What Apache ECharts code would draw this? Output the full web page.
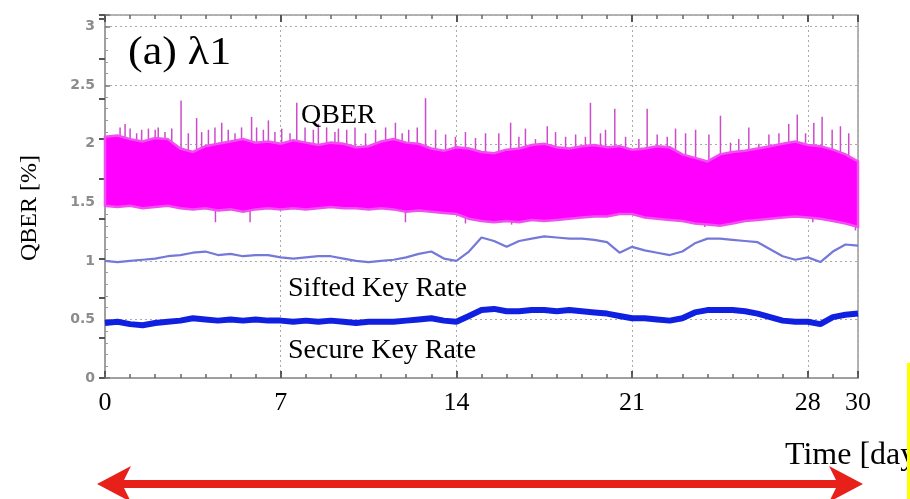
<!DOCTYPE html>
<html><head><meta charset="utf-8">
<script src="https://cdn.jsdelivr.net/npm/echarts@6/dist/echarts.min.js"></script>
<style>html,body{margin:0;padding:0;background:#fff}#c{width:910px;height:499px}</style>
</head><body><div id="c"></div>
<script>
// ---- data ----
const dayTicks = [0, 7, 14, 21, 28, 30];
const yTicks = [0, 0.5, 1, 1.5, 2, 2.5, 3];

const qberDays = [0,0.5,1,1.5,2,2.5,3,3.5,4,4.5,5,5.5,6,6.5,7,7.5,8,8.5,9,9.5,10,10.5,11,11.5,12,12.5,13,13.5,14,14.5,15,15.5,16,16.5,17,17.5,18,18.5,19,19.5,20,20.5,21,21.5,22,22.5,23,23.5,24,24.5,25,25.5,26,26.5,27,27.5,28,28.5,29,29.5,30];
const qberUpper = [2.06,2.07,2.04,2.02,2.05,2.04,1.96,1.93,1.98,2.00,2.02,2.04,2.01,2.02,2.00,2.03,2.01,1.99,2.01,2.00,1.97,1.98,2.02,2.04,2.01,2.00,1.96,1.94,1.97,1.96,1.93,1.92,1.95,1.96,1.99,2.00,1.97,1.96,1.98,1.99,1.97,1.98,1.95,1.96,1.98,1.97,1.91,1.88,1.85,1.91,1.93,1.94,1.96,1.98,2.00,2.02,1.99,1.98,1.95,1.91,1.85];
const qberLower = [1.47,1.46,1.47,1.45,1.46,1.47,1.45,1.44,1.45,1.43,1.44,1.42,1.44,1.45,1.44,1.45,1.44,1.45,1.46,1.45,1.45,1.44,1.45,1.44,1.42,1.43,1.42,1.41,1.40,1.36,1.34,1.33,1.34,1.33,1.35,1.34,1.35,1.36,1.37,1.38,1.38,1.40,1.40,1.37,1.36,1.35,1.34,1.32,1.31,1.30,1.32,1.34,1.35,1.36,1.37,1.38,1.37,1.36,1.34,1.32,1.29];

const spikeDays = [0.4,0.6,0.8,1.0,1.26,1.46,1.73,2.0,2.12,2.39,2.66,3.03,3.32,3.65,3.85,4.12,4.38,4.65,4.91,5.18,5.44,5.84,6.04,6.31,6.51,6.77,7.04,7.37,7.64,7.97,8.3,8.5,8.83,9.16,9.3,9.63,9.96,
  10.38,10.78,11.18,11.57,11.84,12.1,12.44,12.77,13.17,13.57,13.96,14.36,14.76,15.16,15.69,16.16,16.49,16.75,17.15,17.62,17.95,18.35,18.75,19.14,19.34,19.74,19.94,
  20.31,20.74,21.27,21.6,22.0,22.4,22.73,23.13,23.53,24.06,24.52,24.92,25.25,25.65,26.05,26.45,26.85,27.24,27.58,27.91,28.24,28.57,28.97,29.3,29.63];
const spikePeaks = [2.06,2.14,2.17,2.13,2.09,2.12,2.13,2.12,2.14,2.10,2.13,2.37,2.09,2.22,2.10,2.12,2.14,2.18,2.12,2.09,2.14,2.23,2.14,2.12,2.20,2.10,2.13,2.09,2.35,2.14,2.12,2.17,2.14,2.10,2.13,2.12,2.14,
  2.09,2.12,2.14,2.18,2.09,2.12,2.14,2.39,2.12,2.08,2.06,2.10,2.05,2.09,2.09,2.18,2.06,2.13,2.04,2.15,2.10,2.06,2.08,2.06,2.35,2.09,2.12,
  2.30,2.06,2.04,2.30,2.08,2.06,2.13,2.09,2.12,2.08,2.24,2.01,2.04,2.14,2.00,2.08,2.09,2.17,2.25,2.09,2.18,2.23,2.12,2.15,2.09];
const dipDays = [4.4,5.78,11.97,14.36,16.2,23.9,28.2,29.9];
const dipLows = [1.33,1.33,1.33,1.32,1.31,1.29,1.33,1.26];

const siftedDays = qberDays;
const siftedRate = [1.00,0.99,1.00,1.01,1.02,1.04,1.05,1.07,1.08,1.05,1.06,1.04,1.05,1.05,1.03,1.02,1.03,1.04,1.04,1.02,1.00,0.99,1.00,1.01,1.03,1.06,1.08,1.02,1.00,1.08,1.20,1.17,1.12,1.17,1.19,1.21,1.20,1.19,1.19,1.18,1.16,1.07,1.12,1.09,1.07,1.05,1.08,1.15,1.19,1.19,1.18,1.17,1.16,1.10,1.04,1.01,1.03,0.99,1.08,1.14,1.13];
const secureDays = qberDays;
const secureRate = [0.47,0.48,0.46,0.45,0.47,0.48,0.49,0.51,0.50,0.49,0.50,0.49,0.50,0.49,0.49,0.48,0.49,0.48,0.49,0.48,0.47,0.48,0.48,0.48,0.49,0.50,0.51,0.49,0.48,0.53,0.58,0.59,0.57,0.57,0.58,0.58,0.57,0.58,0.57,0.56,0.55,0.53,0.51,0.51,0.50,0.49,0.51,0.56,0.58,0.58,0.58,0.57,0.55,0.52,0.49,0.48,0.48,0.46,0.52,0.54,0.55];

// ---- chart ----
const chart = echarts.init(document.getElementById('c'), null, {renderer: 'canvas'});
const serif = '"Liberation Serif","Times New Roman",serif';
const zip = (a, b) => a.map((v, i) => [v, b[i]]);
const gray = '#9a9a9a';

const option = {
  animation: false,
  backgroundColor: '#fff',
  grid: {left: 105, right: 52, top: 15, bottom: 121, show: true, borderColor: gray, borderWidth: 1.5, backgroundColor: 'transparent'},
  xAxis: [
    {type: 'value', position: 'bottom', min: dayTicks[0], max: dayTicks[dayTicks.length - 1], interval: 7,
     axisLine: {show: true, lineStyle: {color: gray, width: 1.5}},
     axisTick: {show: true, inside: true, length: 7, lineStyle: {color: '#555', width: 2}},
     axisLabel: {fontFamily: serif, fontSize: 26, color: '#000', margin: 12},
     splitLine: {show: true, lineStyle: {color: '#aaa', type: [2, 3], width: 1}}},
    {type: 'value', position: 'bottom', min: 0, max: 30, interval: 1,
     axisLine: {show: false}, axisLabel: {show: false}, splitLine: {show: false},
     axisTick: {show: true, inside: true, length: 4, lineStyle: {color: '#666', width: 1.5}}},
    {type: 'value', position: 'top', min: 0, max: 30, interval: 1,
     axisLine: {show: false}, axisLabel: {show: false}, splitLine: {show: false},
     axisTick: {show: true, inside: true, length: 4, lineStyle: {color: '#666', width: 1.5}}},
    {type: 'value', position: 'top', min: 0, max: 30, interval: 7,
     axisLine: {show: false}, axisLabel: {show: false}, splitLine: {show: false},
     axisTick: {show: true, inside: true, length: 7, lineStyle: {color: '#555', width: 2}}}
  ],
  yAxis: [
    {type: 'value', min: 0, max: 3.1, interval: 0.5,
     axisLine: {show: true, lineStyle: {color: gray, width: 1.5}},
     axisTick: {show: true, inside: true, length: 5, lineStyle: {color: '#777', width: 1.5}},
     minorTick: {show: true, splitNumber: 5, length: 3, lineStyle: {color: '#999'}},
     axisLabel: {fontFamily: '"DejaVu Sans",sans-serif', fontWeight: 'bold', fontSize: 14, color: '#8c8c8c', margin: 10,
       formatter: v => yTicks.indexOf(Math.round(v * 100) / 100) >= 0 ? String(Math.round(v * 100) / 100) : ''},
     splitLine: {show: true, lineStyle: {color: '#aaa', type: [2, 3], width: 1}}},
    {type: 'value', position: 'right', min: 0, max: 9.1, interval: 1,
     axisLine: {show: false}, axisLabel: {show: false}, splitLine: {show: false},
     axisTick: {show: true, inside: true, length: 6, lineStyle: {color: '#555', width: 2}}}
  ],
  series: [
    {type: 'custom', name: 'QBER spikes', data: zip(spikeDays, spikePeaks), z: 2,
     renderItem: (params, api) => {
       const top = api.coord([api.value(0), api.value(1)]);
       const base = api.coord([api.value(0), 1.85]);
       return {type: 'line', shape: {x1: top[0], y1: top[1], x2: base[0], y2: base[1]},
               style: {stroke: '#cc4ccc', lineWidth: 1.5}};
     }},
    {type: 'custom', name: 'QBER dips', data: zip(dipDays, dipLows), z: 2,
     renderItem: (params, api) => {
       const bot = api.coord([api.value(0), api.value(1)]);
       const base = api.coord([api.value(0), 1.5]);
       return {type: 'line', shape: {x1: bot[0], y1: bot[1], x2: base[0], y2: base[1]},
               style: {stroke: '#cc4ccc', lineWidth: 1.5}};
     }},
    {type: 'custom', name: 'QBER', data: [[15, 1.7]], z: 3,
     renderItem: (params, api) => {
       const pts = [];
       for (let i = 0; i < qberDays.length; i++) pts.push(api.coord([qberDays[i], qberUpper[i]]));
       for (let i = qberDays.length - 1; i >= 0; i--) pts.push(api.coord([qberDays[i], qberLower[i]]));
       return {type: 'polygon', shape: {points: pts}, style: {fill: '#ff00ff', stroke: '#f050f0', lineWidth: 2.5, lineJoin: 'miter'}};
     }},
    {type: 'line', name: 'Sifted Key Rate', data: zip(siftedDays, siftedRate), z: 4,
     showSymbol: false, lineStyle: {color: '#7478d8', width: 2.2}},
    {type: 'line', name: 'Secure Key Rate', data: zip(secureDays, secureRate), z: 5,
     showSymbol: false, lineStyle: {color: '#1020e0', width: 6}}
  ],
  graphic: [
    {type: 'text', x: 128, y: 53, z: 100, scaleX: 1.1,
     style: {text: '(a) λ1', font: '40px ' + serif, fill: '#000', verticalAlign: 'middle'}},
    {type: 'text', x: 301, y: 115.5, z: 100,
     style: {text: 'QBER', font: '28px ' + serif, fill: '#000', verticalAlign: 'middle'}},
    {type: 'text', x: 288, y: 288.5, z: 100,
     style: {text: 'Sifted Key Rate', font: '28px ' + serif, fill: '#000', verticalAlign: 'middle'}},
    {type: 'text', x: 288, y: 350.5, z: 100,
     style: {text: 'Secure Key Rate', font: '28px ' + serif, fill: '#000', verticalAlign: 'middle'}},
    {type: 'text', x: 30, y: 208, rotation: Math.PI / 2, z: 100,
     style: {text: 'QBER [%]', font: '24px ' + serif, fill: '#000', align: 'center', verticalAlign: 'middle'}},
    {type: 'text', x: 785, y: 456, z: 100,
     style: {text: 'Time [day]', font: '32px ' + serif, fill: '#000', verticalAlign: 'middle'}},
    {type: 'polygon', z: 100,
     shape: {points: [[97,484],[131,466],[124,480],[836,480],[829,466],[863,484],[829,502],[836,488],[124,488],[131,502]]},
     style: {fill: '#e8201a'}},
    {type: 'rect', z: 101, shape: {x: 907, y: 363, width: 3, height: 136}, style: {fill: '#ffff00'}}
  ]
};
chart.setOption(option);
</script>
</body></html>
